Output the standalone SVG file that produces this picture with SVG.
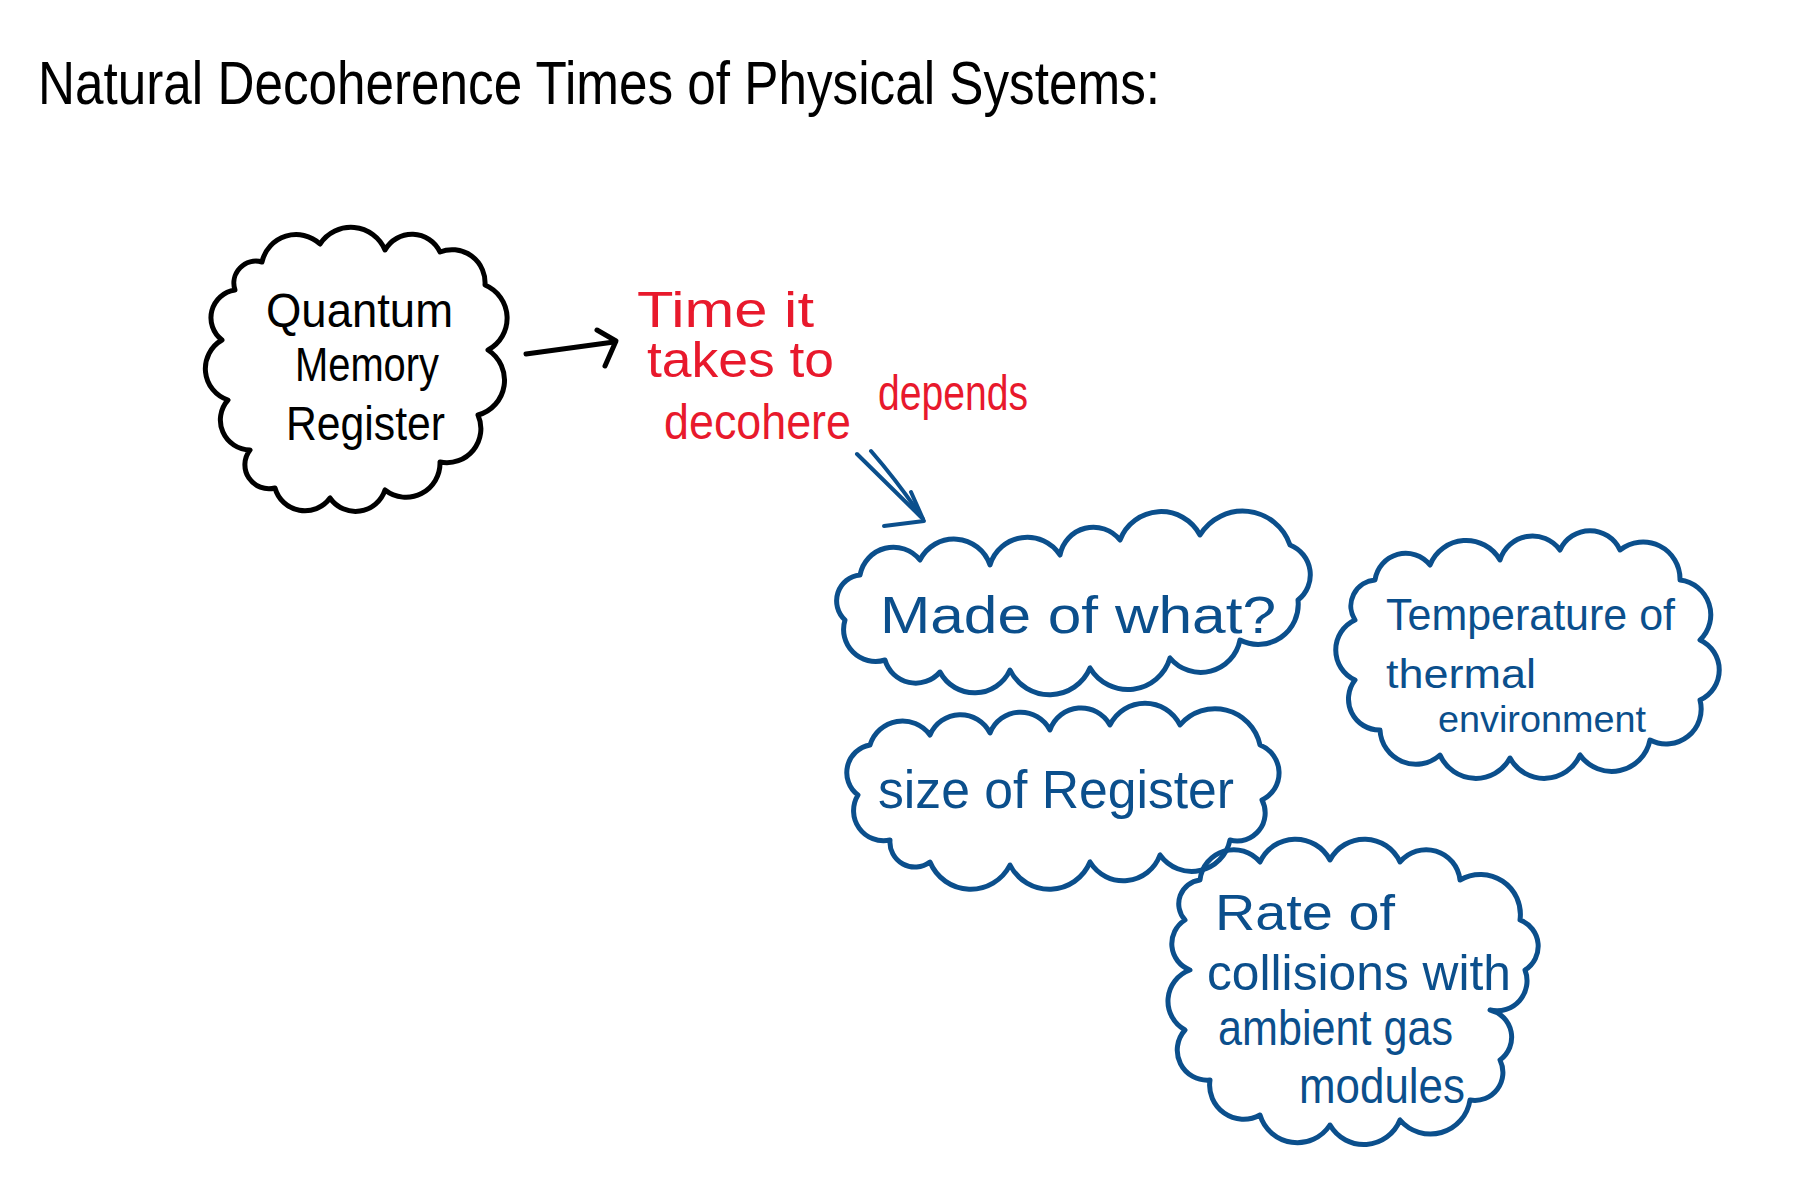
<svg xmlns="http://www.w3.org/2000/svg" width="1811" height="1181" viewBox="0 0 1811 1181">
<style>
.bg{fill:#ffffff}
.hand{font-family:"Liberation Sans","DejaVu Sans",sans-serif;}
.blk{fill:#000000}
.red{fill:#e8192c}
.blu{fill:#0b4f8c}
.cloudK{fill:none;stroke:#000000;stroke-width:5;stroke-linejoin:round;stroke-linecap:round}
.cloudB{fill:none;stroke:#0b4f8c;stroke-width:5;stroke-linejoin:round;stroke-linecap:round}
.conK{fill:none;stroke:#000000;stroke-width:5;stroke-linecap:round;stroke-linejoin:round}
.conB{fill:none;stroke:#0b4f8c;stroke-width:4;stroke-linecap:round;stroke-linejoin:round}
</style>
<rect class="bg" x="0" y="0" width="1811" height="1181"/>

<g id="title">
<text class="hand blk" x="38" y="104" font-size="62" textLength="1122" lengthAdjust="spacingAndGlyphs">Natural  Decoherence  Times  of  Physical  Systems:</text>
</g>

<g id="node-quantum-memory">
<path class="cloudK" d="M262,262 A35,35 0 0 1 320,244 A37,37 0 0 1 385,250 A31,31 0 0 1 440,252 A33,33 0 0 1 485,285 A36,36 0 0 1 488,350 A36,36 0 0 1 478,415 A34,34 0 0 1 440,462 A34,34 0 0 1 385,490 A31,31 0 0 1 330,498 A31,31 0 0 1 275,488 A24,24 0 0 1 250,450 A30,30 0 0 1 228,400 A33,33 0 0 1 222,340 A28,28 0 0 1 235,290 A22,22 0 0 1 262,262 Z"/>
<text class="hand blk" x="266" y="327" font-size="48" textLength="187" lengthAdjust="spacingAndGlyphs">Quantum</text>
<text class="hand blk" x="295" y="381" font-size="48" textLength="144" lengthAdjust="spacingAndGlyphs">Memory</text>
<text class="hand blk" x="286" y="440" font-size="48" textLength="159" lengthAdjust="spacingAndGlyphs">Register</text>
</g>

<g id="node-time-to-decohere">
<text class="hand red" x="637" y="327" font-size="50" textLength="177" lengthAdjust="spacingAndGlyphs">Time  it</text>
<text class="hand red" x="647" y="377" font-size="50" textLength="187" lengthAdjust="spacingAndGlyphs">takes to</text>
<text class="hand red" x="664" y="439" font-size="50" textLength="187" lengthAdjust="spacingAndGlyphs">decohere</text>
<text class="hand red" x="878" y="410" font-size="50" textLength="150" lengthAdjust="spacingAndGlyphs">depends</text>
</g>

<g id="node-made-of-what">
<path class="cloudB" d="M860,575 A34,34 0 0 1 920,560 A38,38 0 0 1 990,565 A39,39 0 0 1 1060,555 A34,34 0 0 1 1120,540 A44,44 0 0 1 1200,535 A50,50 0 0 1 1290,545 A32,32 0 0 1 1298,600 A40,40 0 0 1 1240,640 A40,40 0 0 1 1170,658 A44,44 0 0 1 1090,668 A44,44 0 0 1 1010,670 A39,39 0 0 1 940,672 A32,32 0 0 1 885,660 A32,32 0 0 1 845,620 A26,26 0 0 1 860,575 Z"/>
<text class="hand blu" x="880" y="633" font-size="52" textLength="396" lengthAdjust="spacingAndGlyphs">Made  of  what?</text>
</g>

<g id="node-temperature">
<path class="cloudB" d="M1375,580 A31,31 0 0 1 1430,565 A39,39 0 0 1 1500,560 A34,34 0 0 1 1560,550 A33,33 0 0 1 1620,550 A37,37 0 0 1 1680,580 A35,35 0 0 1 1700,640 A33,33 0 0 1 1700,700 A35,35 0 0 1 1650,740 A39,39 0 0 1 1580,755 A39,39 0 0 1 1510,758 A39,39 0 0 1 1440,755 A36,36 0 0 1 1380,730 A31,31 0 0 1 1355,680 A33,33 0 0 1 1355,620 A26,26 0 0 1 1375,580 Z"/>
<text class="hand blu" x="1386" y="630" font-size="44" textLength="289" lengthAdjust="spacingAndGlyphs">Temperature  of</text>
<text class="hand blu" x="1386" y="688" font-size="40" textLength="150" lengthAdjust="spacingAndGlyphs">thermal</text>
<text class="hand blu" x="1438" y="732" font-size="36" textLength="208" lengthAdjust="spacingAndGlyphs">environment</text>
</g>

<g id="node-size-of-register">
<path class="cloudB" d="M870,745 A34,34 0 0 1 930,735 A33,33 0 0 1 990,733 A33,33 0 0 1 1050,730 A33,33 0 0 1 1110,725 A39,39 0 0 1 1180,725 A46,46 0 0 1 1260,745 A30,30 0 0 1 1262,800 A28,28 0 0 1 1230,840 A39,39 0 0 1 1160,855 A39,39 0 0 1 1090,862 A44,44 0 0 1 1010,865 A44,44 0 0 1 930,862 A25,25 0 0 1 890,840 A30,30 0 0 1 858,795 A28,28 0 0 1 870,745 Z"/>
<text class="hand blu" x="878" y="808" font-size="54" textLength="356" lengthAdjust="spacingAndGlyphs">size  of  Register</text>
</g>

<g id="node-collision-rate">
<path class="cloudB" d="M1200,880 A34,34 0 0 1 1260,862 A39,39 0 0 1 1330,860 A39,39 0 0 1 1400,862 A34,34 0 0 1 1460,880 A40,40 0 0 1 1520,920 A28,28 0 0 1 1525,970 A30,30 0 0 1 1490,1010 A28,28 0 0 1 1500,1060 A28,28 0 0 1 1470,1100 A40,40 0 0 1 1400,1120 A39,39 0 0 1 1330,1125 A39,39 0 0 1 1260,1115 A34,34 0 0 1 1210,1080 A30,30 0 0 1 1185,1030 A33,33 0 0 1 1190,970 A28,28 0 0 1 1185,920 A24,24 0 0 1 1200,880 Z"/>
<text class="hand blu" x="1215" y="930" font-size="50" textLength="180" lengthAdjust="spacingAndGlyphs">Rate  of</text>
<text class="hand blu" x="1207" y="990" font-size="50" textLength="304" lengthAdjust="spacingAndGlyphs">collisions  with</text>
<text class="hand blu" x="1218" y="1045" font-size="50" textLength="235" lengthAdjust="spacingAndGlyphs">ambient gas</text>
<text class="hand blu" x="1299" y="1103" font-size="50" textLength="166" lengthAdjust="spacingAndGlyphs">modules</text>
</g>

<g id="connectors">
<path class="conK" d="M526,354 L614,342"/>
<path class="conK" d="M597,330 L616,341 L605,366"/>
<path class="conB" d="M857,454 L921,517"/>
<path class="conB" d="M871,451 Q898,482 923,519"/>
<path class="conB" d="M911,492 L923,519"/>
<path class="conB" d="M884,526 L924,521" stroke-width="6"/>
</g>
</svg>
